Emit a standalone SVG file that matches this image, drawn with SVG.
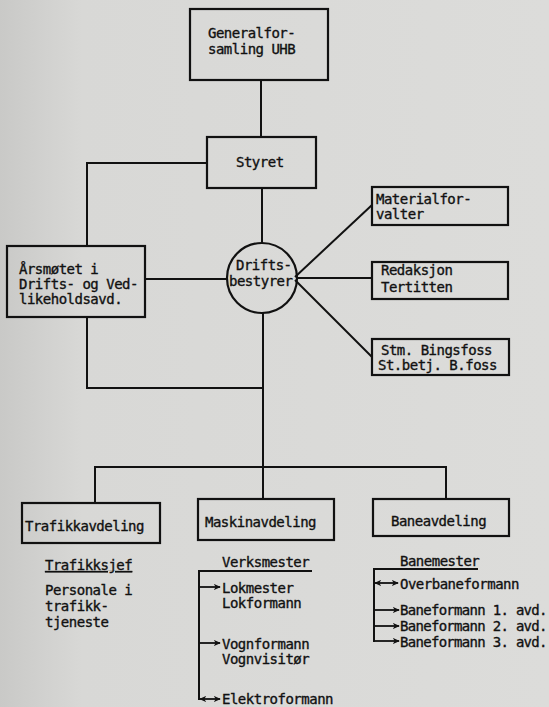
<svg xmlns="http://www.w3.org/2000/svg" width="549" height="707" viewBox="0 0 549 707">
<defs>
<linearGradient id="bg" x1="0" y1="0" x2="1" y2="0">
<stop offset="0" stop-color="#c9c9c7"/>
<stop offset="0.15" stop-color="#d8d8d6"/>
<stop offset="1" stop-color="#dcdcda"/>
</linearGradient>
<marker id="ah" viewBox="0 0 8 8" refX="7" refY="4" markerWidth="7" markerHeight="7" markerUnits="userSpaceOnUse" orient="auto-start-reverse">
<path d="M0,0.5 L8,4 L0,7.5 L2,4 Z" fill="#111"/>
</marker>
<style>
.box{fill:none;stroke:#111;stroke-width:2.2}
.ln{fill:none;stroke:#111;stroke-width:2}
.t{font-family:"DejaVu Sans Mono","Liberation Mono",monospace;font-size:14px;letter-spacing:-0.5px;fill:#111;stroke:#111;stroke-width:0.35}
.ar{fill:none;stroke:#111;stroke-width:1.8}
</style>
</defs>
<rect width="549" height="707" fill="url(#bg)"/>

<g id="connectors">
<path class="ln" d="M261,80 V137"/>
<path class="ln" d="M262,188 V243"/>
<path class="ln" d="M207,163 H87 V246"/>
<path class="ln" d="M145,279 H228"/>
<path class="ln" d="M87,317 V388 H263"/>
<path class="ln" d="M263,312 V467"/>
<path class="ln" d="M295,277 L372,205"/>
<path class="ln" d="M297,278 H372"/>
<path class="ln" d="M295,280 L372,357"/>
<path class="ln" d="M95,503 V467 H446 V499"/>
<path class="ln" d="M263,467 V499"/>
<path class="ln" d="M312,571 H199 V700"/>
<path class="ar" d="M199,587 H220" marker-end="url(#ah)"/>
<path class="ar" d="M199,643 H220" marker-end="url(#ah)"/>
<path class="ar" d="M200,699 H220" marker-start="url(#ah)" marker-end="url(#ah)"/>
<path class="ln" d="M478,569 H374 V642"/>
<path class="ar" d="M375,583 H398" marker-start="url(#ah)" marker-end="url(#ah)"/>
<path class="ar" d="M374,610 H399" marker-end="url(#ah)"/>
<path class="ar" d="M374,626 H399" marker-end="url(#ah)"/>
<path class="ar" d="M374,641 H399" marker-end="url(#ah)"/>
</g>

<g id="generalforsamling">
<rect class="box" x="190" y="9" width="138" height="71"/>
<text class="t" x="208" y="38">Generalfor-</text>
<text class="t" x="208" y="54">samling UHB</text>
</g>
<g id="styret">
<rect class="box" x="207" y="137" width="109" height="51"/>
<text class="t" x="236" y="167">Styret</text>
</g>
<g id="arsmotet">
<rect class="box" x="7" y="246" width="138" height="71"/>
<text class="t" x="19" y="274">Årsmøtet i</text>
<text class="t" x="19" y="289">Drifts- og Ved-</text>
<text class="t" x="19" y="304">likeholdsavd.</text>
</g>
<g id="driftsbestyrer">
<circle class="box" cx="262" cy="278" r="35"/>
<text class="t" x="236" y="270">Drifts-</text>
<text class="t" x="229" y="286">bestyrer</text>
</g>
<g id="materialforvalter">
<rect class="box" x="372" y="187" width="136" height="38"/>
<text class="t" x="376" y="204">Materialfor-</text>
<text class="t" x="376" y="219">valter</text>
</g>
<g id="redaksjon">
<rect class="box" x="372" y="262" width="136" height="37"/>
<text class="t" x="381" y="275">Redaksjon</text>
<text class="t" x="381" y="292">Tertitten</text>
</g>
<g id="bingsfoss">
<rect class="box" x="372" y="339" width="137" height="36"/>
<text class="t" x="381" y="355">Stm. Bingsfoss</text>
<text class="t" x="378" y="370">St.betj. B.foss</text>
</g>
<g id="trafikkavdeling">
<rect class="box" x="22" y="503" width="138" height="40"/>
<text class="t" x="25" y="531">Trafikkavdeling</text>
<text class="t" x="45" y="570" text-decoration="underline">Trafikksjef</text>
<text class="t" x="45" y="595">Personale i</text>
<text class="t" x="45" y="611">trafikk-</text>
<text class="t" x="45" y="627">tjeneste</text>
</g>
<g id="maskinavdeling">
<rect class="box" x="198" y="499" width="136" height="41"/>
<text class="t" x="205" y="527">Maskinavdeling</text>
<text class="t" x="222" y="567">Verksmester</text>
<text class="t" x="222" y="593">Lokmester</text>
<text class="t" x="222" y="608">Lokformann</text>
<text class="t" x="222" y="649">Vognformann</text>
<text class="t" x="222" y="664">Vognvisitør</text>
<text class="t" x="222" y="704">Elektroformann</text>
</g>
<g id="baneavdeling">
<rect class="box" x="373" y="499" width="136" height="37"/>
<text class="t" x="391" y="526">Baneavdeling</text>
<text class="t" x="400" y="566">Banemester</text>
<text class="t" x="400" y="589">Overbaneformann</text>
<text class="t" x="400" y="615" textLength="147">Baneformann 1. avd.</text>
<text class="t" x="400" y="631" textLength="147">Baneformann 2. avd.</text>
<text class="t" x="400" y="647" textLength="147">Baneformann 3. avd.</text>
</g>
</svg>
